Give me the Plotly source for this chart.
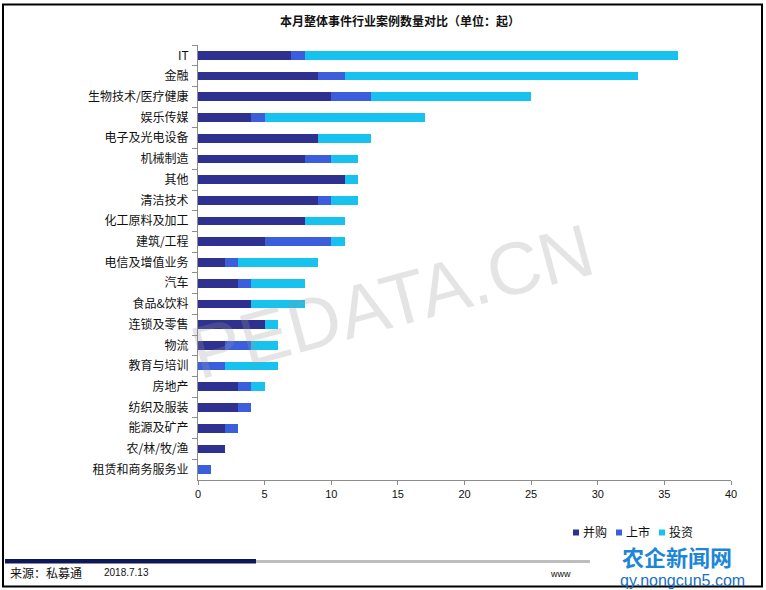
import plotly.graph_objects as go

categories = ["IT", "金融", "生物技术/医疗健康", "娱乐传媒", "电子及光电设备", "机械制造", "其他",
              "清洁技术", "化工原料及加工", "建筑/工程", "电信及增值业务", "汽车", "食品&饮料",
              "连锁及零售", "物流", "教育与培训", "房地产", "纺织及服装", "能源及矿产", "农/林/牧/渔",
              "租赁和商务服务业"]
mna = [7, 9, 10, 4, 9, 8, 11, 9, 8, 5, 2, 3, 4, 5, 2, 0, 3, 3, 2, 2, 0]
ipo = [1, 2, 3, 1, 0, 2, 0, 1, 0, 5, 1, 1, 0, 0, 2, 2, 1, 1, 1, 0, 1]
inv = [28, 22, 12, 12, 4, 2, 1, 2, 3, 1, 6, 4, 4, 1, 2, 4, 1, 0, 0, 0, 0]
series_names = ["并购", "上市", "投资"]
colors = ["#2e3190", "#3b5fdc", "#18c2ee"]
x_ticks = [0, 5, 10, 15, 20, 25, 30, 35, 40]

W_FIG, H_FIG = 766, 590
L, R = 198, 731
T, B = 44.6, 480.4
PW, PH = R - L, B - T

def px(x):
    return (x - L) / PW

def py(y):
    return (B - y) / PH

CJK = "Noto Sans CJK SC"

fig = go.Figure()
for name, vals, c in zip(series_names, [mna, ipo, inv], colors):
    fig.add_trace(go.Bar(y=categories, x=vals, name=name, orientation="h",
                         marker=dict(color=c, line=dict(width=0)), width=0.42))

fig.update_layout(
    width=W_FIG, height=H_FIG,
    margin=dict(l=L, r=W_FIG - R, t=T, b=H_FIG - B, pad=0),
    barmode="stack",
    paper_bgcolor="white", plot_bgcolor="white",
    font=dict(family=CJK, size=12, color="#111"),
    showlegend=False,
    title=dict(text="<b>本月整体事件行业案例数量对比（单位：起）</b>", x=px(400), xref="paper",
               xanchor="center", y=1 - 22 / H_FIG, yanchor="middle",
               font=dict(family=CJK, size=12, color="#111")),
)
fig.update_yaxes(categoryorder="array", categoryarray=categories, autorange="reversed",
                 showline=True, linecolor="#8c8c8c", linewidth=1, ticks="outside",
                 tickson="boundaries", ticklen=5, tickcolor="#8c8c8c", showgrid=False,
                 tickfont=dict(family=CJK, size=12, color="#111"), ticklabelstandoff=6)
fig.update_xaxes(range=[0, 40], tickvals=x_ticks, showline=True, linecolor="#8c8c8c",
                 linewidth=1, ticks="outside", ticklen=4, tickcolor="#8c8c8c", showgrid=False,
                 zeroline=False, tickfont=dict(family="Liberation Sans", size=11, color="#111"))

shapes = [
    dict(type="rect", xref="paper", yref="paper", x0=px(3), x1=px(762), y0=py(4), y1=py(587),
         line=dict(color="black", width=2), fillcolor="rgba(0,0,0,0)", layer="above"),
    dict(type="rect", xref="paper", yref="paper", x0=px(256), x1=px(590), y0=py(560.5), y1=py(563.5),
         line=dict(width=0), fillcolor="#bdbdbd"),
    dict(type="rect", xref="paper", yref="paper", x0=px(5), x1=px(256), y0=py(559.5), y1=py(564),
         line=dict(width=0), fillcolor="#0d1858"),
]
annotations = [
    dict(text="PEDATA.CN", xref="paper", yref="paper", x=px(392), y=py(302), showarrow=False,
         textangle=-15, font=dict(family="Liberation Sans", size=74, color="rgba(150,150,150,0.26)")),
    dict(text="来源：私募通", xref="paper", yref="paper", x=px(8), y=py(573), xanchor="left",
         yanchor="middle", showarrow=False, font=dict(family=CJK, size=12, color="#111")),
    dict(text="2018.7.13", xref="paper", yref="paper", x=px(102), y=py(573), xanchor="left",
         yanchor="middle", showarrow=False, font=dict(family="Liberation Sans", size=10, color="#111")),
    dict(text="www", xref="paper", yref="paper", x=px(548), y=py(575), xanchor="left",
         yanchor="middle", showarrow=False, font=dict(family="Liberation Sans", size=9, color="#111")),
    dict(text="<b>农企新闻网</b>", xref="paper", yref="paper", x=px(620), y=py(557), xanchor="left",
         yanchor="middle", showarrow=False, font=dict(family=CJK, size=22, color="#1d86d8")),
    dict(text="qy.nongcun5.com", xref="paper", yref="paper", x=px(618), y=py(581), xanchor="left",
         yanchor="middle", showarrow=False, font=dict(family="Liberation Sans", size=16, color="#1a6fbf")),
]
# manual legend
legend_x = [573, 616, 659]
for name, c, lx in zip(series_names, colors, legend_x):
    shapes.append(dict(type="rect", xref="paper", yref="paper", x0=px(lx), x1=px(lx + 6),
                       y0=py(536), y1=py(530), line=dict(width=0), fillcolor=c))
    annotations.append(dict(text=name, xref="paper", yref="paper", x=px(lx + 8), y=py(532),
                            xanchor="left", yanchor="middle", showarrow=False,
                            font=dict(family=CJK, size=12, color="#111")))
fig.update_layout(shapes=shapes, annotations=annotations)

fig.write_html("out.html")
